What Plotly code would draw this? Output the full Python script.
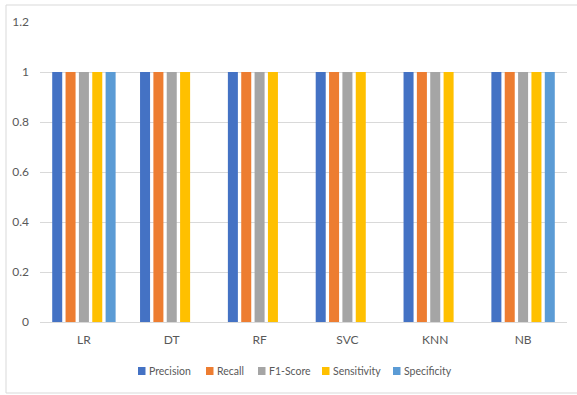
import plotly.graph_objects as go

# Classifier scores per metric
models = ["LR", "DT", "RF", "SVC", "KNN", "NB"]
precision = [1, 1, 1, 1, 1, 1]
recall = [1, 1, 1, 1, 1, 1]
f1_score = [1, 1, 1, 1, 1, 1]
sensitivity = [1, 1, 1, 1, 1, 1]
specificity = [1, None, None, None, None, 1]

series = [
    ("Precision", precision, "#4472C4"),
    ("Recall", recall, "#ED7D31"),
    ("F1-Score", f1_score, "#A5A5A5"),
    ("Sensitivity", sensitivity, "#FFC000"),
    ("Specificity", specificity, "#5B9BD5"),
]

font_family = "Lato, 'Open Sans', sans-serif"
text_color = "#595959"
grid_color = "#D9D9D9"

fig = go.Figure()
for name, vals, color in series:
    fig.add_trace(go.Bar(
        x=models, y=vals, name=name, showlegend=False,
        marker=dict(color=color, line=dict(width=0)),
    ))

W, H = 577, 395
L, R, T, B = 40, 10, 22, 73
pw = W - L - R
ph = H - T - B

def px_x(x):
    return (x - L) / pw

def px_y(y):
    return (H - B - y) / ph

# Legend row below the axis: small swatch followed by its label
legend_left = [138, 206, 258, 322, 393]
legend_y = 371
shapes = []
annotations = []
for (name, _, color), x0 in zip(series, legend_left):
    shapes.append(dict(
        type="rect", xref="paper", yref="paper",
        x0=px_x(x0), x1=px_x(x0 + 7.5),
        y0=px_y(legend_y + 4), y1=px_y(legend_y - 4),
        line=dict(width=0), fillcolor=color,
    ))
    annotations.append(dict(
        text=name, xref="paper", yref="paper",
        x=px_x(x0 + 8.5), y=px_y(legend_y),
        xanchor="left", yanchor="middle", showarrow=False,
        font=dict(size=10.5, color=text_color, family=font_family),
    ))

# Outer chart frame (open on the right edge)
shapes.append(dict(
    type="rect", xref="paper", yref="paper",
    x0=px_x(6), x1=px_x(590), y0=px_y(393), y1=px_y(5),
    line=dict(color=grid_color, width=1), fillcolor="rgba(0,0,0,0)",
    layer="below",
))

fig.update_layout(
    width=W, height=H,
    margin=dict(l=L, r=R, t=T, b=B, pad=0),
    paper_bgcolor="white", plot_bgcolor="white",
    barmode="group", bargap=0.24, bargroupgap=0.25,
    font=dict(family=font_family, size=12, color=text_color),
    showlegend=False,
    xaxis=dict(
        showgrid=False, showline=True, linecolor=grid_color, linewidth=1,
        ticks="", tickfont=dict(size=12, color=text_color), ticklabelstandoff=7,
    ),
    yaxis=dict(
        range=[0, 1.2], tickvals=[0, 0.2, 0.4, 0.6, 0.8, 1, 1.2],
        ticktext=["0", "0.2", "0.4", "0.6", "0.8", "1", "1.2"],
        showgrid=True, gridcolor=grid_color, gridwidth=1,
        zeroline=False, showline=False, ticks="",
        tickfont=dict(size=12, color=text_color), ticklabelstandoff=10,
    ),
    shapes=shapes,
    annotations=annotations,
)

fig.write_html("out.html")
